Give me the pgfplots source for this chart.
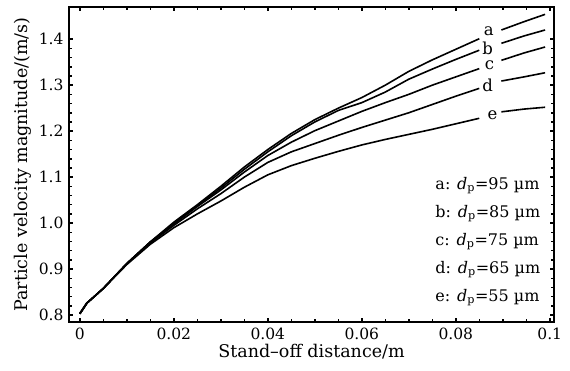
\documentclass[border=0pt]{standalone}
\usepackage{fontspec}
\setmainfont{DejaVu Serif}
\usepackage{pgfplots}
\pgfplotsset{compat=1.18}
\usepackage{pgfplotstable}
\pgfplotstableread{
x y
0 0.803
0.0015 0.826
0.005 0.858
0.01 0.912
0.015 0.959
0.02 1.002
0.025 1.040
0.03 1.080
0.035 1.122
0.04 1.160
0.045 1.195
0.05 1.225
0.055 1.250
0.06 1.273
0.065 1.300
0.07 1.330
0.075 1.355
0.08 1.378
0.085 1.401
0.087 nan
0.0897 1.420
0.0945 1.438
0.099 1.454
}\ta
\pgfplotstableread{
x y
0 0.803
0.0015 0.826
0.005 0.858
0.01 0.912
0.015 0.959
0.02 1.000
0.025 1.038
0.03 1.076
0.035 1.117
0.04 1.155
0.045 1.190
0.05 1.220
0.055 1.245
0.06 1.262
0.065 1.285
0.07 1.313
0.075 1.335
0.08 1.356
0.085 1.376
0.087 nan
0.0897 1.391
0.0945 1.407
0.099 1.420
}\tb
\pgfplotstableread{
x y
0 0.803
0.0015 0.826
0.005 0.858
0.01 0.912
0.015 0.959
0.02 0.998
0.025 1.036
0.03 1.072
0.035 1.111
0.04 1.147
0.045 1.176
0.05 1.201
0.055 1.222
0.06 1.243
0.065 1.262
0.07 1.280
0.075 1.300
0.08 1.318
0.085 1.336
0.087 nan
0.0897 1.354
0.0945 1.370
0.099 1.383
}\tc
\pgfplotstableread{
x y
0 0.803
0.0015 0.826
0.005 0.858
0.01 0.912
0.015 0.957
0.02 0.995
0.025 1.031
0.03 1.064
0.035 1.100
0.04 1.132
0.045 1.155
0.05 1.173
0.055 1.191
0.06 1.208
0.065 1.224
0.07 1.240
0.075 1.258
0.08 1.276
0.085 1.293
0.087 nan
0.0897 1.309
0.0945 1.318
0.099 1.327
}\td
\pgfplotstableread{
x y
0 0.803
0.0015 0.826
0.005 0.858
0.01 0.910
0.015 0.954
0.02 0.990
0.025 1.020
0.03 1.048
0.035 1.078
0.04 1.105
0.045 1.125
0.05 1.141
0.055 1.156
0.06 1.170
0.065 1.182
0.07 1.193
0.075 1.204
0.08 1.216
0.085 1.228
0.087 nan
0.0897 1.242
0.0945 1.248
0.099 1.252
}\te
\tikzset{crv/.style={black, no markers, line width=1.6pt, line join=round}}
\begin{document}
\fontsize{16}{19}\selectfont
\begin{tikzpicture}
\begin{axis}[
  scale only axis,
  width=485pt, height=315pt,
  xmin=-0.0023, xmax=0.1009,
  ymin=0.785, ymax=1.47,
  axis line style={line width=2pt},
  xtick={0,0.02,0.04,0.06,0.08,0.1},
  xticklabels={0,0.02,0.04,0.06,0.08,0.1},
  ytick={0.8,0.9,1.0,1.1,1.2,1.3,1.4},
  yticklabels={0.8,0.9,1.0,1.1,1.2,1.3,1.4},
  minor x tick num=3,
  minor y tick num=4,
  tick align=inside,
  major tick length=4pt,
  minor tick length=3pt,
  every tick/.style={black, line width=1.5pt},
  tick label style={font=\fontsize{15.5}{18}\selectfont},
  label style={font=\fontsize{17.5}{20}\selectfont},
  xlabel={Stand\textendash off distance/m},
  ylabel={Particle velocity magnitude/(m/s)},
  xlabel style={yshift=6pt},
  ylabel style={yshift=-3pt},
  unbounded coords=jump,
  clip=false,
]
\addplot[crv] table[x=x,y=y]{\ta};
\addplot[crv] table[x=x,y=y]{\tb};
\addplot[crv] table[x=x,y=y]{\tc};
\addplot[crv] table[x=x,y=y]{\td};
\addplot[crv] table[x=x,y=y]{\te};
\begin{scope}[every node/.style={font=\fontsize{16.5}{19}\selectfont, inner sep=0pt}]
\node at (axis cs:0.0870,1.418) {a};
\node at (axis cs:0.0868,1.381) {b};
\node at (axis cs:0.0872,1.343) {c};
\node at (axis cs:0.0868,1.300) {d};
\node at (axis cs:0.0878,1.235) {e};
\end{scope}
\node[anchor=west, align=left, font=\fontsize{16}{28}\selectfont] at (axis cs:0.0745,0.96) {%
a: \textit{d}\textsubscript{p}=95 µm\\
b: \textit{d}\textsubscript{p}=85 µm\\
c: \textit{d}\textsubscript{p}=75 µm\\
d: \textit{d}\textsubscript{p}=65 µm\\
e: \textit{d}\textsubscript{p}=55 µm};
\end{axis}
\path ([xshift=-69pt,yshift=-48pt]current axis.south west) rectangle ([xshift=16pt,yshift=7pt]current axis.north east);
\end{tikzpicture}
\end{document}
